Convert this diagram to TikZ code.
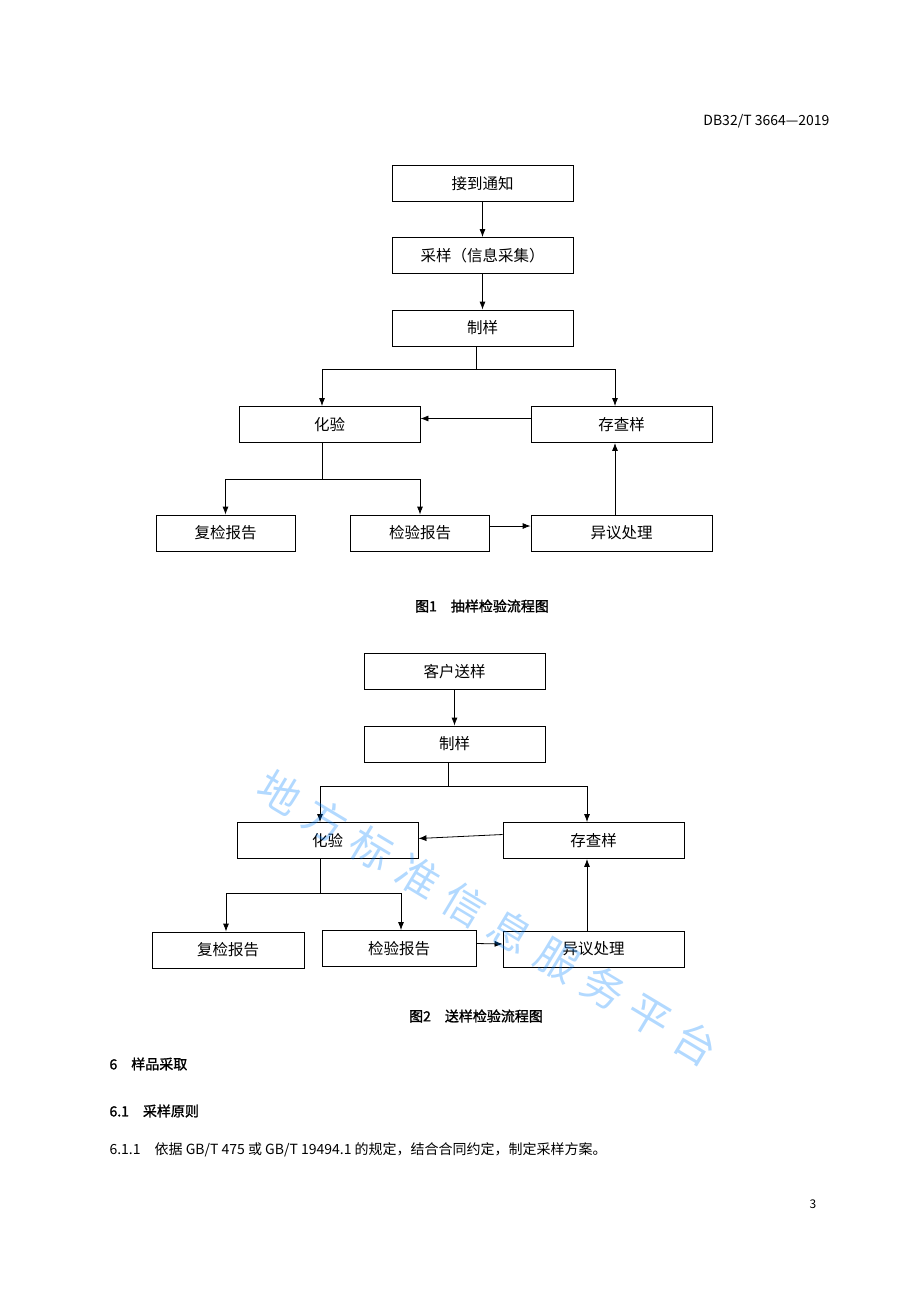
\documentclass[tikz,border=0pt]{standalone}
\usepackage{fontspec}
\setmainfont{Noto Sans CJK SC}
\newfontfamily\cjkb[FakeBold=1.5]{Noto Sans CJK SC}
\usetikzlibrary{arrows.meta}
\tikzset{
  flowbox/.style={draw,thick,minimum width=181pt,minimum height=36pt,font=\fontsize{15.5}{18}\selectfont},
  smallbox/.style={flowbox,minimum width=139pt},
  flowline/.style={thick,-{Latex[length=8pt,width=6pt]}}
}
\begin{document}
\begin{tikzpicture}[x=1pt,y=-1pt]
\useasboundingbox (0,0) rectangle (920,1302);
\node[anchor=east,font=\fontsize{14}{16}\selectfont] (hdr) at (833,121) {DB32/T 3664—2019};
% figure 1
\node[flowbox] (jd) at (482.5,183.5) {接到通知};
\node[flowbox] (cy) at (482.5,255.5) {采样（信息采集）};
\node[flowbox] (zy) at (482.5,328) {制样};
\node[flowbox] (hy) at (329.5,424.5) {化验};
\node[flowbox] (cc) at (621.5,424.5) {存查样};
\node[smallbox] (fj) at (225.5,533) {复检报告};
\node[smallbox] (jy) at (420,533) {检验报告};
\node[flowbox] (yy) at (621.5,533) {异议处理};
\draw[flowline] (jd) -- (cy);
\draw[flowline] (cy) -- (zy);
\draw[thick] (zy.south -| 476,0) -- (476,369) coordinate (s1);
\draw[flowline] (s1) -| ([xshift=-7.5pt]hy.north);
\draw[flowline] (s1) -| ([xshift=-6.5pt]cc.north);
\draw[flowline] ([yshift=6pt]cc.west) -- ([yshift=6pt]hy.east);
\draw[thick] ([xshift=-7.5pt]hy.south) -- (322,479) coordinate (s2);
\draw[flowline] (s2) -| (fj.north);
\draw[flowline] (s2) -| (jy.north);
\draw[flowline] ([yshift=7pt]jy.east) -- ([yshift=7pt]yy.west);
\draw[flowline] ([xshift=-6.5pt]yy.north) -- ([xshift=-6.5pt]cc.south);
\node[font=\cjkb\fontsize{14}{16}\selectfont] (cap1) at (482,606) {图1\quad 抽样检验流程图};
% figure 2
\node[flowbox] (ks) at (454.5,671.5) {客户送样};
\node[flowbox] (zy2) at (454.5,744) {制样};
\node[flowbox] (hy2) at (327.5,840.5) {化验};
\node[flowbox] (cc2) at (593.5,840.5) {存查样};
\node[smallbox,minimum width=152pt] (fj2) at (228,950) {复检报告};
\node[smallbox,minimum width=154pt] (jy2) at (399,948.5) {检验报告};
\node[flowbox] (yy2) at (593.5,949) {异议处理};
\draw[flowline] (ks) -- (zy2);
\draw[thick] ([xshift=-6.5pt]zy2.south) -- (448,786) coordinate (s3);
\draw[flowline] (s3) -| ([xshift=-7.5pt]hy2.north);
\draw[flowline] (s3) -| ([xshift=-6.5pt]cc2.north);
\draw[flowline] ([yshift=6pt]cc2.west) -- ([yshift=2pt]hy2.east);
\draw[thick] ([xshift=-7.5pt]hy2.south) -- (320,893) coordinate (s4);
\draw[flowline] (s4) -| ([xshift=-2pt]fj2.north);
\draw[flowline] (s4) -| ([xshift=2pt]jy2.north);
\draw[flowline] ([yshift=5pt]jy2.east) -- ([yshift=5pt]yy2.west);
\draw[flowline] ([xshift=-6.5pt]yy2.north) -- ([xshift=-6.5pt]cc2.south);
\node[font=\cjkb\fontsize{14}{16}\selectfont] (cap2) at (476,1016) {图2\quad 送样检验流程图};
% text
\node[anchor=west,font=\cjkb\fontsize{14}{16}\selectfont] (sec6) at (106,1064) {6\quad 样品采取};
\node[anchor=west,font=\cjkb\fontsize{14}{16}\selectfont] (sec61) at (106,1111) {6.1\quad 采样原则};
\node[anchor=west,font=\fontsize{14}{16}\selectfont] (sec611) at (106,1150) {6.1.1\quad 依据 GB/T 475 或 GB/T 19494.1 的规定，结合合同约定，制定采样方案。};
\node[font=\fontsize{12}{14}\selectfont] (pg) at (813,1204) {3};
% watermark
\node[rotate=-31,text=blue!50!cyan,opacity=0.3,font=\fontsize{42}{46}\selectfont] (wm) at (488,918) {地\hspace{12pt}方\hspace{12pt}标\hspace{12pt}准\hspace{12pt}信\hspace{12pt}息\hspace{12pt}服\hspace{12pt}务\hspace{12pt}平\hspace{12pt}台};
\end{tikzpicture}
\end{document}
